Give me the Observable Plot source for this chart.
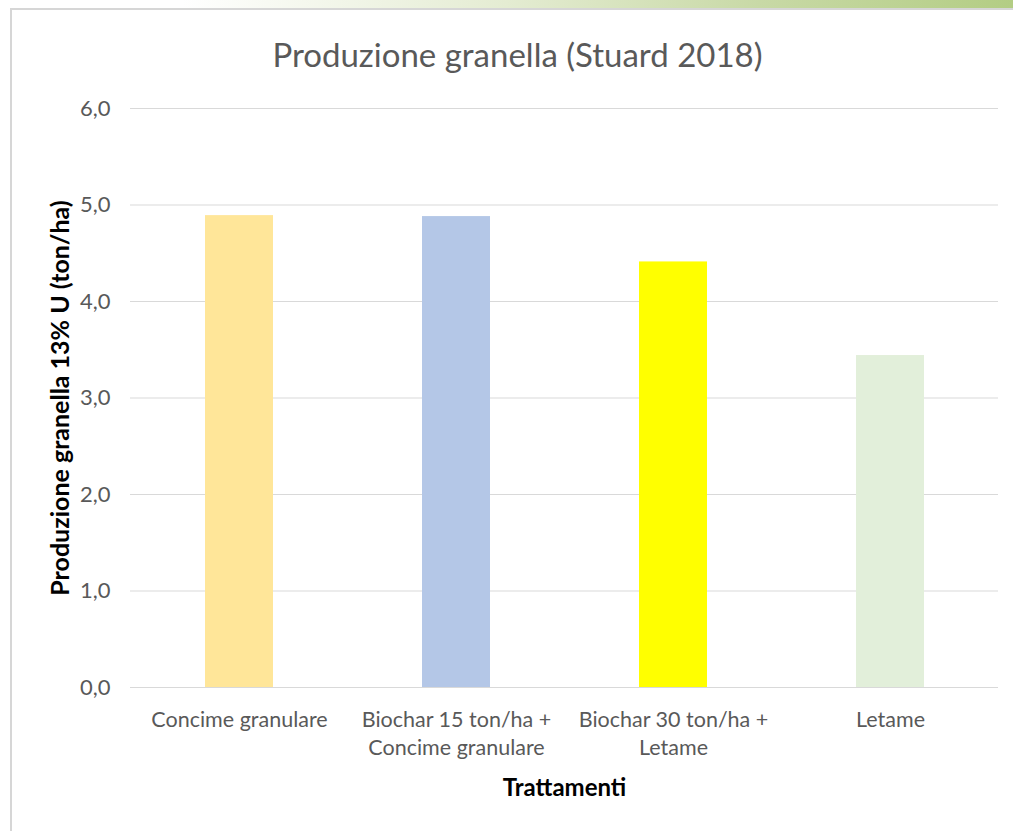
<!DOCTYPE html>
<html>
<head>
<meta charset="utf-8">
<script src="https://cdn.jsdelivr.net/npm/d3@7"></script>
<script src="https://cdn.jsdelivr.net/npm/@observablehq/plot@0.6"></script>
<style>
  html, body { margin: 0; padding: 0; background: #fff; }
  #wrap { position: relative; width: 1013px; height: 831px; overflow: hidden; font-family: Lato, "Open Sans", sans-serif; }
  #strip { position: absolute; left: 0; top: 0; width: 1013px; height: 8px;
    background: linear-gradient(to right, #ffffff 0%, #ffffff 18%, #e4ecd2 50%, #c8d9a6 75%, #b3cd84 100%); }
  #btop { position: absolute; left: 10px; top: 8px; width: 1003px; height: 2px; background: #d6d6d6; }
  #bleft { position: absolute; left: 10px; top: 8px; width: 2px; height: 823px; background: #d6d6d6; }
  #title { position: absolute; left: 12px; width: 1011px; top: 34px; line-height: 40px; text-align: center; font-size: 33px; color: #595959; }
  #chart { position: absolute; left: 0; top: 80px; }
</style>
</head>
<body>
<div id="wrap">
  <div id="strip"></div>
  <div id="btop"></div>
  <div id="bleft"></div>
  <div id="title">Produzione granella (Stuard 2018)</div>
  <div id="chart"></div>
</div>
<script>
const categories = ["Concime granulare", "Biochar 15 ton/ha +\nConcime granulare", "Biochar 30 ton/ha +\nLetame", "Letame"];
const values = [4.89, 4.88, 4.41, 3.44];
const colors = ["#ffe699", "#b4c7e7", "#ffff00", "#e2efda"];
const yTicks = [0, 1, 2, 3, 4, 5, 6];
const yLabel = "Produzione granella 13% U (ton/ha)";
const xLabel = "Trattamenti";

const data = categories.map((c, i) => ({cat: c, val: values[i], col: colors[i]}));

const plot = Plot.plot({
  width: 1013,
  height: 751,
  marginLeft: 130,
  marginRight: 15,
  marginTop: 28,
  marginBottom: 144,
  style: {fontFamily: "Lato, 'Open Sans', sans-serif", background: "transparent"},
  x: {domain: categories, paddingInner: 0.687, paddingOuter: 0.3435, label: null},
  y: {domain: [0, 6], label: null},
  marks: [
    Plot.gridY(yTicks, {stroke: "#d9d9d9", strokeOpacity: 1, strokeWidth: 1}),
    Plot.barY(data, {x: "cat", y: "val", fill: "col"}),
    Plot.axisY(yTicks, {tickSize: 0, tickPadding: 20, tickFormat: d => d.toFixed(1).replace(".", ","), fontSize: 22, fill: "#595959", label: null}),
    Plot.axisX({tickSize: 0, tickPadding: 20, fontSize: 21.5, fill: "#595959", lineHeight: 1.3, label: null}),
    Plot.text([yLabel], {frameAnchor: "left", dx: -70, rotate: -90, textAnchor: "middle", text: d => d, fontSize: 25, fontWeight: "bold", fill: "#000"}),
    Plot.text([xLabel], {frameAnchor: "bottom", dy: 108, text: d => d, fontSize: 24, fontWeight: "bold", fill: "#000"})
  ]
});
document.getElementById("chart").appendChild(plot);
</script>
</body>
</html>
